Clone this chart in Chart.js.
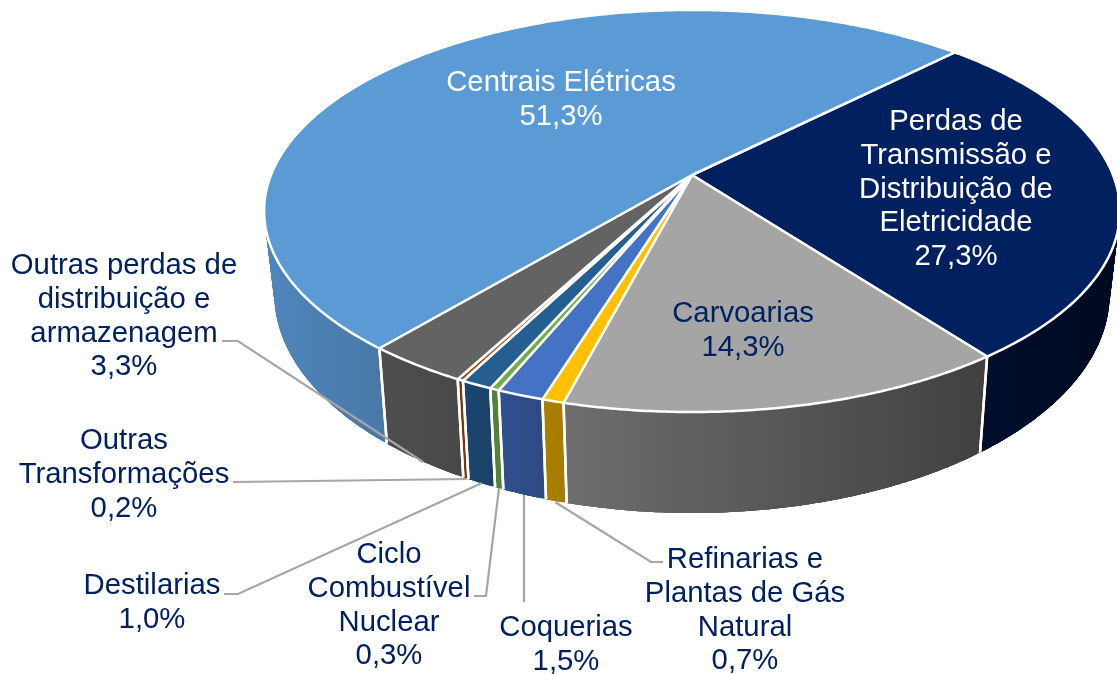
<!DOCTYPE html>
<html><head><meta charset="utf-8">
<script src="https://cdn.jsdelivr.net/npm/chart.js@4"></script>
<style>html,body{margin:0;padding:0;background:#fff}canvas{display:block}</style>
</head><body>
<canvas id="c" width="1117" height="674"></canvas>
<script>
const categories = ["Perdas de Transmissão e Distribuição de Eletricidade","Carvoarias","Refinarias e Plantas de Gás Natural","Coquerias","Ciclo Combustível Nuclear","Destilarias","Outras Transformações","Outras perdas de distribuição e armazenagem","Centrais Elétricas"];
const values = [27.3,14.3,0.7,1.5,0.3,1.0,0.2,3.3,51.3];
const topColors = ["#002060","#A5A5A5","#FFC000","#4472C4","#70AD47","#255E91","#9E480E","#636363","#5B9BD5"];
const wallLeft = ["#000e2c","#6e6e6e","#ab8000","#2f5090","#548235","#1b4570","#7a360a","#4e4e4e","#4f86bc"];
const wallRight = ["#000a20","#404040","#a57c00","#2d4a80","#548235","#1a4266","#7a360a","#484848","#4878a6"];
const labelLines = [
 ["Perdas de","Transmissão e","Distribuição de","Eletricidade"],["Carvoarias"],["Refinarias e","Plantas de Gás","Natural"],["Coquerias"],
 ["Ciclo","Combustível","Nuclear"],["Destilarias"],["Outras","Transformações"],["Outras perdas de","distribuição e","armazenagem"],["Centrais Elétricas"]];
const percentText = values.map(v => v.toFixed(1).replace(".", ",") + "%");
const labelColors = ["#fff","#002060","#002060","#002060","#002060","#002060","#002060","#002060","#fff"];
const labelAnchors = [[956,122],[743,314],[745,560],[566,628],[389,555],[152,586],[124,441],[124,266],[561,83]];
const leaders = [
 [[555,502],[651,562],[663,562]],[[524,495],[524,602]],[[474,596],[486,596],[499,488]],
 [[224,594],[238,594],[482,483]],[[233,482],[467,479]],[[222,341],[238,341],[423,462]]];

// Perspective of the tilted disc
const TOP = {cx:692, cy:175, a:421, b:194.6, k:0.179};
const BOT = {sx:0.976, sy:1.09, cy:254.6};
function topPt(phi){
  const u=Math.sin(phi), v=-Math.cos(phi), d=1-TOP.k*v;
  return [TOP.cx+TOP.a*u/d, TOP.cy+TOP.b*v/d];
}
function botPt(phi){
  const p=topPt(phi);
  return [TOP.cx+(p[0]-TOP.cx)*BOT.sx, BOT.cy+(p[1]-TOP.cy)*BOT.sy];
}
const WALL_MIN=60*Math.PI/180, WALL_MAX=300*Math.PI/180, STEP=Math.PI/360;
function arcAngles(a,b){const r=[];for(let t=a;t<b;t+=STEP)r.push(t);r.push(b);return r;}
function slices(chart){
  return chart.getDatasetMeta(0).data.map(el=>{
    const norm=x=>{let p=x+Math.PI/2;while(p<0)p+=2*Math.PI;while(p>=2*Math.PI)p-=2*Math.PI;return p;};
    const s=norm(el.startAngle); let e=s+(el.endAngle-el.startAngle);
    return {s,e};
  });
}
const pie3d = {
  id:"pie3d",
  beforeDatasetsDraw(chart){
    const ctx=chart.ctx, sl=slices(chart);
    ctx.save(); ctx.lineJoin="round";
    sl.forEach((q,i)=>{
      const ranges=[[q.s,q.e],[q.s-2*Math.PI,q.e-2*Math.PI],[q.s+2*Math.PI,q.e+2*Math.PI]];
      ranges.forEach(r=>{
        const a=Math.max(r[0],WALL_MIN), b=Math.min(r[1],WALL_MAX);
        if(b<=a) return;
        const ang=arcAngles(a,b), tp=ang.map(topPt), bp=ang.map(botPt);
        const xs=tp.concat(bp).map(p=>p[0]);
        const g=ctx.createLinearGradient(Math.min(...xs),0,Math.max(...xs),0);
        g.addColorStop(0,wallLeft[i]); g.addColorStop(1,wallRight[i]);
        ctx.fillStyle=g;
        for(let j=0;j<ang.length-1;j++){
          const n=Math.min(j+4,ang.length-1);
          ctx.beginPath();
          for(let m=j;m<=n;m++) ctx.lineTo(tp[m][0],tp[m][1]);
          for(let m=n;m>=j;m--) ctx.lineTo(bp[m][0],bp[m][1]);
          ctx.closePath();ctx.fill();
        }
      });
    });
    sl.forEach(q=>{
      [q.s,q.e,q.s+2*Math.PI,q.e-2*Math.PI].forEach(t=>{
        if(t>=WALL_MIN&&t<=WALL_MAX){
          const A=topPt(t),B=botPt(t);
          ctx.strokeStyle="#fff"; ctx.lineWidth=2.5;
          ctx.beginPath();ctx.moveTo(A[0],A[1]);ctx.lineTo(B[0],B[1]);ctx.stroke();
        }
      });
    });
    sl.forEach((q,i)=>{
      ctx.beginPath(); ctx.moveTo(TOP.cx,TOP.cy);
      arcAngles(q.s,q.e).map(topPt).forEach(p=>ctx.lineTo(p[0],p[1]));
      ctx.closePath();
      ctx.fillStyle=topColors[i]; ctx.fill();
      ctx.strokeStyle="#fff"; ctx.lineWidth=2.5; ctx.stroke();
    });
    // leader lines
    ctx.strokeStyle="#A6A6A6"; ctx.lineWidth=2.2; ctx.lineJoin="miter";
    leaders.forEach(l=>{ctx.beginPath();l.forEach((p,j)=>j?ctx.lineTo(p[0],p[1]):ctx.moveTo(p[0],p[1]));ctx.stroke();});
    // labels
    ctx.font='29.3px "Liberation Sans", Arial, sans-serif';
    ctx.textAlign="center"; ctx.textBaseline="middle";
    labelLines.forEach((lines,i)=>{
      ctx.fillStyle=labelColors[i];
      const all=lines.concat([percentText[i]]);
      all.forEach((t,j)=>ctx.fillText(t,labelAnchors[i][0],labelAnchors[i][1]+j*33.8));
    });
    ctx.restore();
    return false;
  }
};
new Chart(document.getElementById("c"),{
  type:"pie",
  data:{labels:categories,datasets:[{data:values,backgroundColor:topColors,borderColor:"#fff",borderWidth:2}]},
  options:{responsive:false,animation:false,rotation:44.7,
    plugins:{legend:{display:false},tooltip:{enabled:false}}},
  plugins:[pie3d]
});
</script>
</body></html>
